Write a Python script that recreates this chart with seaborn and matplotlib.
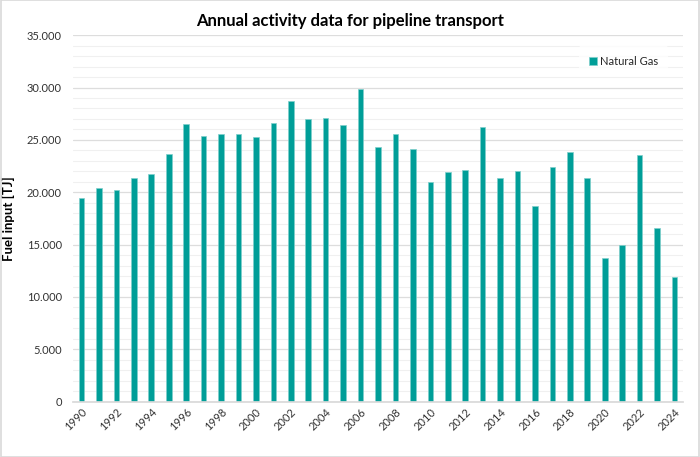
import matplotlib
matplotlib.use("Agg")
import matplotlib.pyplot as plt
import seaborn as sns
import pandas as pd
from matplotlib.ticker import FuncFormatter, MultipleLocator
from matplotlib.patches import Rectangle

years = list(range(1990, 2025))
natural_gas = [19420, 20400, 20180, 21350, 21770, 23700, 26540, 25360, 25600, 25520,
               25300, 26660, 28670, 26980, 27100, 26470, 29870, 24370, 25600, 24150,
               21000, 21900, 22090, 26250, 21320, 21990, 18720, 22400, 23830, 21390,
               13730, 14940, 23580, 16590, 11950]
series_name = "Natural Gas"
title = "Annual activity data for pipeline transport"
ylabel = "Fuel input [TJ]"

sns.set_theme(style="white")
plt.rcParams['font.family'] = ['Lato', 'DejaVu Sans']

df = pd.DataFrame({"year": [str(y) for y in years], "value": natural_gas, "series": series_name})

fig = plt.figure(figsize=(7.0, 4.57), dpi=100)
ax = fig.add_axes([0.104, 0.121, 0.872, 0.802])

sns.barplot(data=df, x="year", y="value", hue="series", palette=["#009E98"],
            width=0.32, ax=ax, edgecolor="#7FCFCB", linewidth=0.5, saturation=1)

ax.set_ylim(0, 35000)
ax.set_xlim(-0.5, len(years) - 0.5)
ax.yaxis.set_major_locator(MultipleLocator(5000))
ax.yaxis.set_minor_locator(MultipleLocator(1000))
ax.yaxis.set_major_formatter(FuncFormatter(lambda v, p: f"{int(v):,}".replace(",", ".")))
ax.grid(axis="y", which="major", color="#DDDDDD", linewidth=0.9)
ax.grid(axis="y", which="minor", color="#F0F0F0", linewidth=0.8)
ax.set_axisbelow(True)
for s in ["top", "right", "left"]:
    ax.spines[s].set_visible(False)
ax.spines["bottom"].set_color("#D9D9D9")
ax.tick_params(axis="both", which="both", length=0, labelsize=8, colors="#333333")
ax.tick_params(axis="y", pad=8)

labels = [str(y) if (y - 1990) % 2 == 0 else "" for y in years]
ax.set_xticks(range(len(years)))
ax.set_xticklabels(labels, rotation=45, ha="right", rotation_mode="anchor", fontsize=8)
ax.set_xlabel("")
ax.set_ylabel(ylabel, fontsize=9.5, fontweight="bold", color="#000000")
ax.yaxis.set_label_coords(-0.095, 0.5)

fig.text(0.5, 0.955, title, ha="center", va="center", fontsize=12, fontweight="bold", color="#000000")

leg = ax.legend(loc="upper right", bbox_to_anchor=(0.985, 0.985), frameon=True, fontsize=8,
                handlelength=0.7, handleheight=0.7, handletextpad=0.3, borderpad=0.9)
leg.get_frame().set_edgecolor("none")
leg.get_frame().set_facecolor("white")

fig.patches.append(Rectangle((0.001, 0.001), 0.998, 0.998, transform=fig.transFigure,
                             fill=False, edgecolor="#D9D9D9", linewidth=1.2))

fig.savefig("out.png", dpi=100)
